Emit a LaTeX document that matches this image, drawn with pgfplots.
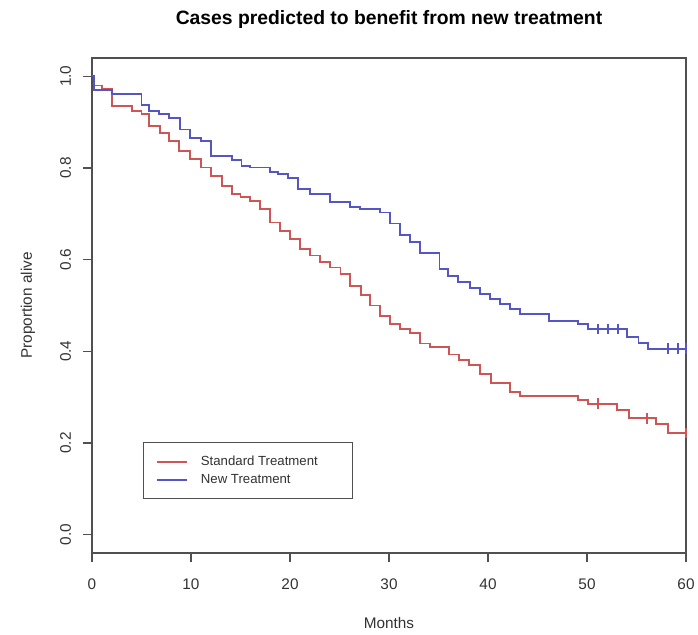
\documentclass[border=0pt]{standalone}
\usepackage{fontspec}
\setmainfont{Liberation Sans}
\usepackage{pgfplots}
\pgfplotsset{compat=1.18}

\definecolor{stdred}{RGB}{205,85,85}
\definecolor{newblue}{RGB}{85,85,195}
\definecolor{axgray}{RGB}{80,80,80}
\definecolor{txtgray}{RGB}{50,50,50}

\begin{document}
\begin{tikzpicture}
\useasboundingbox (0,0) rectangle (523.5pt,475.5pt);
\begin{axis}[
  at={(69pt,60.75pt)}, anchor=south west,
  scale only axis, width=445.5pt, height=371.25pt,
  xmin=0, xmax=60, ymin=-0.04, ymax=1.04,
  xtick={0,10,...,60},
  ytick={0,0.2,0.4,0.6,0.8,1.0},
  yticklabel style={/pgf/number format/fixed, /pgf/number format/fixed zerofill,
                    /pgf/number format/precision=1, rotate=90, anchor=south},
  /pgf/number format/assume math mode=true,
  tick align=outside, major tick length=7pt,
  xtick pos=bottom, ytick pos=left,
  axis line style={axgray, line width=0.9pt},
  tick style={axgray, line width=0.9pt},
  tick label style={font=\fontsize{11.5}{13}\selectfont, text=txtgray},
  xticklabel style={yshift=-9pt},
  yticklabel style={yshift=5.25pt},
  title={Cases predicted to benefit from new treatment},
  title style={at={(axis description cs:0.5,1.0606)}, anchor=center,
               font=\fontsize{14.5}{17}\selectfont\bfseries},
  xlabel={Months},
  xlabel style={at={(axis description cs:0.5,-0.1414)}, anchor=center,
                font=\fontsize{11.5}{13}\selectfont, text=txtgray},
  ylabel={Proportion alive},
  ylabel style={at={(axis description cs:-0.1077,0.5)}, anchor=center,
                font=\fontsize{11.5}{13}\selectfont, text=txtgray},
  legend style={at={(axis cs:5.15,0.202)}, anchor=north west,
                draw=axgray, line width=0.9pt, inner xsep=9.5pt, inner ysep=7.5pt,
                font=\fontsize{9.9}{12}\selectfont, text=txtgray,
                nodes={text height=7.5pt, text depth=2pt, inner ysep=2pt},
                row sep=0pt},
  legend cell align=left,
]
\addlegendimage{legend image code/.code={\draw[draw=stdred, line width=1.5pt] (0pt,0pt) -- (22pt,0pt);}}
\addlegendentry{\hspace{8pt}\makebox[102pt][l]{Standard Treatment}}
\addlegendimage{legend image code/.code={\draw[draw=newblue, line width=1.5pt] (0pt,0pt) -- (22pt,0pt);}}
\addlegendentry{\hspace{8pt}\makebox[102pt][l]{New Treatment}}
% Standard treatment (red) Kaplan-Meier steps
\addplot[const plot, stdred, line width=1.4pt, forget plot] coordinates {
(0,1.0) (0.2,0.980) (1.0,0.973) (2.0,0.935) (4.0,0.925) (5.0,0.917) (5.8,0.891)
(6.9,0.877) (7.8,0.859) (8.8,0.837) (9.9,0.819) (11.0,0.801) (12.0,0.783)
(13.1,0.761) (14.1,0.743) (15.0,0.736) (16.0,0.728) (17.0,0.710) (18.0,0.681)
(19.0,0.663) (20.0,0.645) (21.0,0.623) (22.0,0.609) (23.0,0.594) (24.0,0.583)
(25.1,0.569) (26.1,0.543) (27.2,0.522) (28.1,0.500) (29.1,0.478) (30.1,0.459)
(31.1,0.449) (32.1,0.440) (33.1,0.417) (34.1,0.409) (36.1,0.393) (37.1,0.382)
(38.1,0.370) (39.2,0.351) (40.3,0.330) (42.2,0.312) (43.2,0.302) (49.1,0.293)
(50.1,0.286) (53.0,0.272) (54.2,0.254) (57.0,0.241) (58.2,0.222) (60,0.222)
};
% New treatment (blue)
\addplot[const plot, newblue, line width=1.4pt, forget plot] coordinates {
(0,1.0) (0.2,0.971) (2.0,0.962) (5.0,0.938) (5.8,0.924) (6.8,0.917) (7.8,0.909)
(8.9,0.884) (9.9,0.865) (11.0,0.859) (12.0,0.826) (14.1,0.817) (15.1,0.804)
(16.0,0.801) (18.0,0.792) (18.8,0.786) (19.8,0.778) (20.8,0.754) (22.0,0.743)
(24.0,0.725) (26.1,0.715) (27.1,0.710) (29.1,0.703) (30.1,0.679) (31.1,0.654)
(32.1,0.638) (33.1,0.614) (35.1,0.580) (36.0,0.565) (37.0,0.551) (38.2,0.538)
(39.2,0.525) (40.2,0.515) (41.2,0.504) (42.2,0.493) (43.2,0.482) (46.2,0.467)
(49.1,0.459) (50.1,0.449) (54.0,0.431) (55.2,0.418) (56.2,0.406) (60,0.406)
};
% censoring marks
\addplot[only marks, mark=|, mark size=4pt, stdred, line width=1.4pt, forget plot]
  coordinates {(51.1,0.286) (56.1,0.254) (60,0.222)};
\addplot[only marks, mark=|, mark size=4pt, newblue, line width=1.4pt, forget plot]
  coordinates {(51.1,0.449) (52.1,0.449) (53.1,0.449) (58.2,0.406) (59.2,0.406) (60,0.406)};
\end{axis}
\end{tikzpicture}
\end{document}
